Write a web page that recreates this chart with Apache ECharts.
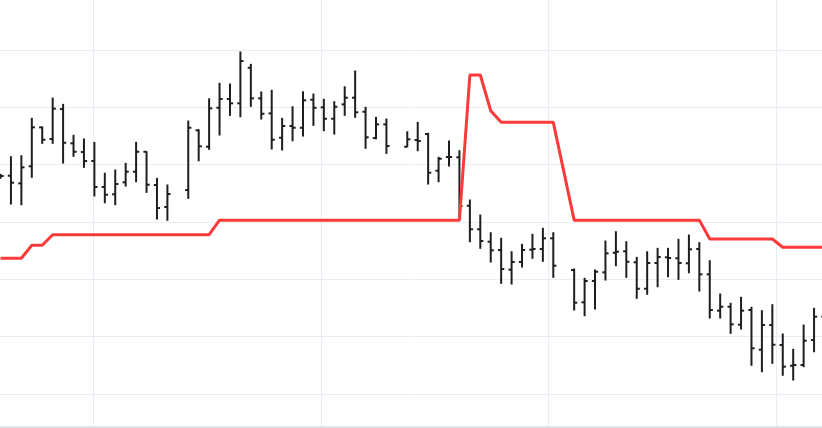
<!DOCTYPE html>
<html>
<head>
<meta charset="utf-8">
<script src="https://cdn.jsdelivr.net/npm/echarts@6/dist/echarts.min.js"></script>
<style>
html,body{margin:0;padding:0;background:#fff;}
body{width:822px;height:428px;overflow:hidden;position:relative;}
#chart{position:absolute;left:-140px;top:-10px;width:972px;height:463px;}
</style>
</head>
<body>
<div id="chart"></div>
<script>
var categories = ['1','2','3','4','5','6','7','8','9','10','11','12','13','14','15','16','17','18','19','20',
  '21','22','23','24','25','26','27','28','29','30','31','32','33','34','35','36','37','38','39','40',
  '41','42','43','44','45','46','47','48','49','50','51','52','53','54','55','56','57','58','59','60',
  '61','62','63','64','65','66','67','68','69','70','71','72','73','74','75','76','77','78','79','80'];

var openVals = [138.0,138.05,136.72,139.69,146.49,144.45,149.68,143.70,142.18,140.61,
  136.08,134.80,136.90,138.75,142.23,136.43,132.59,null,135.55,145.97,
  143.11,149.91,151.43,150.68,156.89,151.55,148.93,144.68,146.72,146.42,
  151.31,149.98,147.99,150.50,151.66,149.21,144.62,147.01,null,143.11,
  144.28,145.32,138.92,141.31,141.26,132.81,128.70,126.53,125.09,121.65,
  123.00,125.14,125.26,127.13,null,121.60,115.96,119.68,121.19,124.61,
  124.86,122.94,118.33,122.82,123.81,123.64,122.77,125.26,120.85,114.50,
  115.19,112.05,114.62,107.69,112.00,108.51,104.90,105.02,109.38,113.45];

var highVals = [138.3,141.36,141.54,148.06,146.54,151.60,150.50,145.10,144.45,143.87,
  138.47,139.04,140.21,143.87,142.23,137.59,136.43,null,147.59,146.07,
  151.48,154.17,154.05,159.63,157.48,152.65,152.95,148.06,150.08,152.70,
  152.30,151.38,150.96,153.57,156.31,149.98,148.24,147.94,null,145.72,
  147.36,145.44,141.26,144.10,142.41,133.81,131.19,128.10,127.13,124.79,
  126.08,127.82,128.87,128.10,null,121.77,120.15,121.60,126.66,128.28,
  126.53,123.81,124.79,125.38,125.38,126.95,127.70,126.36,123.22,117.41,
  115.79,116.83,115.09,114.50,115.54,110.43,107.76,112.00,114.91,114.62];

var lowVals = [137.6,133.11,132.99,137.77,143.70,143.70,140.26,141.43,139.51,134.51,
  133.34,132.99,136.25,137.00,135.15,130.49,130.27,null,134.10,140.66,
  142.65,145.15,148.58,148.34,150.15,147.94,142.71,142.53,144.15,144.97,
  146.84,145.90,145.32,148.58,148.24,142.83,144.50,141.95,null,143.11,
  142.41,136.60,137.00,139.74,130.89,126.53,125.38,123.00,119.27,119.15,
  122.12,123.64,123.11,120.32,null,114.62,113.62,114.79,119.85,122.35,
  120.32,116.66,117.36,118.68,120.43,119.97,121.12,117.93,113.22,113.22,
  110.55,111.30,104.97,103.85,105.32,103.23,102.41,104.73,107.34,111.83];

var closeVals = [138.0,136.83,139.51,146.49,144.33,149.74,143.80,142.23,140.61,136.08,
  134.73,136.60,138.75,142.23,136.48,132.41,134.85,null,146.42,143.18,
  149.81,151.43,150.68,158.06,151.55,148.86,144.33,146.72,146.42,151.20,
  149.91,147.99,150.08,151.66,149.11,144.75,147.01,143.23,null,144.40,
  144.10,138.57,141.01,141.31,132.76,128.70,126.65,125.03,121.77,123.00,
  125.09,125.26,127.13,122.35,null,115.89,119.68,121.30,124.51,124.79,
  123.04,118.33,122.82,123.86,123.69,122.82,125.21,120.85,114.62,115.19,
  112.12,114.50,107.94,112.00,108.56,104.73,105.02,109.26,113.45,112.87];

var stopLine = [123.64,123.64,123.64,125.91,125.91,127.75,127.75,127.75,127.75,127.75,
  127.75,127.75,127.75,127.75,127.75,127.75,127.75,null,127.75,127.75,
  127.75,130.3,130.3,130.3,130.3,130.3,130.3,130.3,130.3,130.3,
  130.3,130.3,130.3,130.3,130.3,130.3,130.3,130.3,null,130.3,
  130.3,130.3,130.3,130.3,130.3,155.62,155.62,149.39,147.36,147.36,
  147.36,147.36,147.36,147.36,null,130.3,130.3,130.3,130.3,130.3,
  130.3,130.3,130.3,130.3,130.3,130.3,130.3,130.3,127.0,127.0,
  127.0,127.0,127.0,127.0,127.0,125.56,125.56,125.56,125.56,125.56];

var ohlcData = [];
for (var i = 0; i < categories.length; i++) {
  if (openVals[i] === null) continue;
  ohlcData.push([i, openVals[i], closeVals[i], lowVals[i], highVals[i]]);
}

var chart = echarts.init(document.getElementById('chart'), null, {renderer: 'canvas'});
var barColor = '#1e1e1e';

chart.setOption({
  animation: false,
  backgroundColor: '#ffffff',
  grid: [
    {left: 135.3, right: 2.3, top: 2.6, bottom: 1.9},
    {left: 6.3, right: 2.4, top: 10, bottom: 26}
  ],
  xAxis: [
    {
      type: 'category', gridIndex: 0, data: categories, boundaryGap: true,
      axisLine: {show: false}, axisTick: {show: false}, axisLabel: {show: false},
      splitLine: {show: false}
    },
    {
      type: 'value', gridIndex: 1, min: 0, max: 4.236, interval: 1,
      axisLine: {show: true, lineStyle: {color: '#dfe3ea', width: 2}},
      axisTick: {show: false}, axisLabel: {show: false},
      splitLine: {show: true, lineStyle: {color: '#e8ecf4', width: 1}}
    }
  ],
  yAxis: [
    {
      type: 'value', gridIndex: 0, min: 90, max: 170, interval: 10,
      axisLine: {show: false}, axisTick: {show: false}, axisLabel: {show: false},
      splitLine: {show: true, lineStyle: {color: '#e8ecf4', width: 1}}
    },
    {
      type: 'value', gridIndex: 1, min: 0, max: 1,
      axisLine: {show: false}, axisTick: {show: false}, axisLabel: {show: false},
      splitLine: {show: false}
    }
  ],
  series: [
    {
      type: 'custom',
      xAxisIndex: 0, yAxisIndex: 0,
      data: ohlcData,
      z: 3,
      renderItem: function (params, api) {
        var idx = api.value(0);
        var o = api.coord([idx, api.value(1)]);
        var c = api.coord([idx, api.value(2)]);
        var l = api.coord([idx, api.value(3)]);
        var h = api.coord([idx, api.value(4)]);
        var w = api.size([1, 0])[0] * 0.3;
        var st = {stroke: barColor, lineWidth: 2};
        return {
          type: 'group',
          children: [
            {type: 'line', shape: {x1: h[0], y1: h[1] - 0.5, x2: l[0], y2: l[1] + 0.5}, style: st},
            {type: 'line', shape: {x1: o[0] - w, y1: o[1], x2: o[0], y2: o[1]}, style: st},
            {type: 'line', shape: {x1: c[0], y1: c[1], x2: c[0] + w, y2: c[1]}, style: st}
          ]
        };
      }
    },
    {
      type: 'line',
      xAxisIndex: 0, yAxisIndex: 0,
      data: stopLine,
      connectNulls: true,
      showSymbol: false,
      symbol: 'none',
      z: 4,
      lineStyle: {color: '#fb3a3a', width: 3},
      itemStyle: {color: '#fb3a3a'}
    }
  ]
});
</script>
</body>
</html>
